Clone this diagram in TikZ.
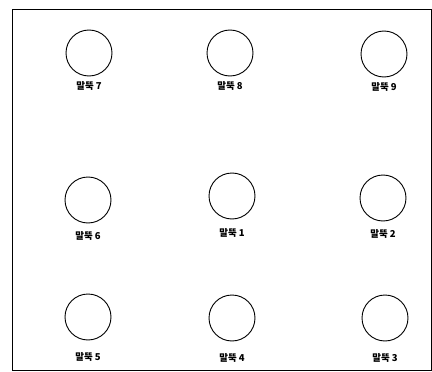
\documentclass[tikz,border=0pt]{standalone}
\usepackage{fontspec}
\newfontfamily\kr{Noto Sans CJK KR}[BoldFont={Noto Sans CJK KR Black}]
\usetikzlibrary{positioning}
\tikzset{pile/.style={draw, circle, minimum size=46pt, inner sep=0pt, line width=0.9pt},
  pilelabel/.style={font=\kr\bfseries\fontsize{9.5}{11}\selectfont, inner sep=0pt}}

\begin{document}
\begin{tikzpicture}[x=1pt,y=-1pt]
\useasboundingbox (0,0) rectangle (432,372);
\draw[line width=0.9pt] (12,9) rectangle (431,370);
\node[pile] (p7) at (89,53) {};
\node[pile] (p8) at (230,53) {};
\node[pile] (p9) at (384,54) {};
\node[pile] (p6) at (88,200) {};
\node[pile] (p1) at (232,196) {};
\node[pile] (p2) at (383,198) {};
\node[pile] (p5) at (88,317) {};
\node[pile] (p4) at (232,318) {};
\node[pile] (p3) at (385,318) {};
\node[pilelabel, below=5pt of p7] (l7) {말뚝 7};
\node[pilelabel, below=5pt of p8] (l8) {말뚝 8};
\node[pilelabel, below=5pt of p9] (l9) {말뚝 9};
\node[pilelabel, below=8pt of p6] (l6) {말뚝 6};
\node[pilelabel, below=9pt of p1] (l1) {말뚝 1};
\node[pilelabel, below=8pt of p2] (l2) {말뚝 2};
\node[pilelabel, below=12pt of p5] (l5) {말뚝 5};
\node[pilelabel, below=12pt of p4] (l4) {말뚝 4};
\node[pilelabel, below=12pt of p3] (l3) {말뚝 3};
\end{tikzpicture}
\end{document}
